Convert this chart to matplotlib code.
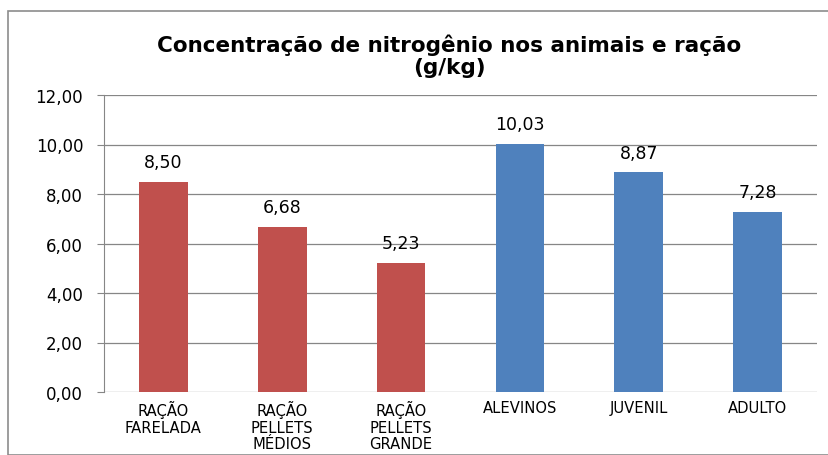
import matplotlib
matplotlib.use("Agg")
import matplotlib.pyplot as plt
from matplotlib.patches import Rectangle

categories = ["RAÇÃO\nFARELADA", "RAÇÃO\nPELLETS\nMÉDIOS", "RAÇÃO\nPELLETS\nGRANDE",
              "ALEVINOS", "JUVENIL", "ADULTO"]
values = [8.50, 6.68, 5.23, 10.03, 8.87, 7.28]
colors = ["#C0504D", "#C0504D", "#C0504D", "#4F81BD", "#4F81BD", "#4F81BD"]
yticks = [0, 2, 4, 6, 8, 10, 12]

plt.rcParams['font.family'] = ['DejaVu Sans']

fig = plt.figure(figsize=(8.29, 4.56), dpi=100)
fig.patches.append(Rectangle((8/829, 0), 1.0, 1 - 12/456, transform=fig.transFigure,
                             fill=False, edgecolor="#8c8c8c", linewidth=1.2))
ax = fig.add_axes([104/829, 1 - 393/456, (817 - 104)/829, (393 - 96)/456])

x = list(range(len(categories)))
bars = ax.bar(x, values, width=0.41, color=colors, zorder=3)
for xi, v in zip(x, values):
    ax.text(xi, v + 0.42, f"{v:.2f}".replace(".", ","), ha="center", va="bottom",
            fontsize=12.5, color="black")

ax.set_ylim(0, 12)
ax.set_xlim(-0.5, len(categories) - 0.5)
ax.set_yticks(yticks)
ax.set_yticklabels([f"{t:.2f}".replace(".", ",") for t in yticks], fontsize=12)
ax.set_xticks(x)
ax.set_xticklabels(categories, fontsize=10.6, linespacing=1.12)
ax.tick_params(axis="x", length=0, pad=6)
ax.tick_params(axis="y", length=5, color="#868686", pad=10)
ax.yaxis.grid(True, color="#868686", linewidth=0.9, zorder=0)
for s in ["top", "right", "bottom"]:
    ax.spines[s].set_visible(False)
ax.spines["left"].set_color("#868686")

fig.text(449/829, 1 - 45/456, "Concentração de nitrogênio nos animais e ração",
         ha="center", va="center", fontsize=15.5, fontweight="bold")
fig.text(449/829, 1 - 68/456, "(g/kg)", ha="center", va="center",
         fontsize=15.5, fontweight="bold")

fig.savefig("out.png", dpi=100)
